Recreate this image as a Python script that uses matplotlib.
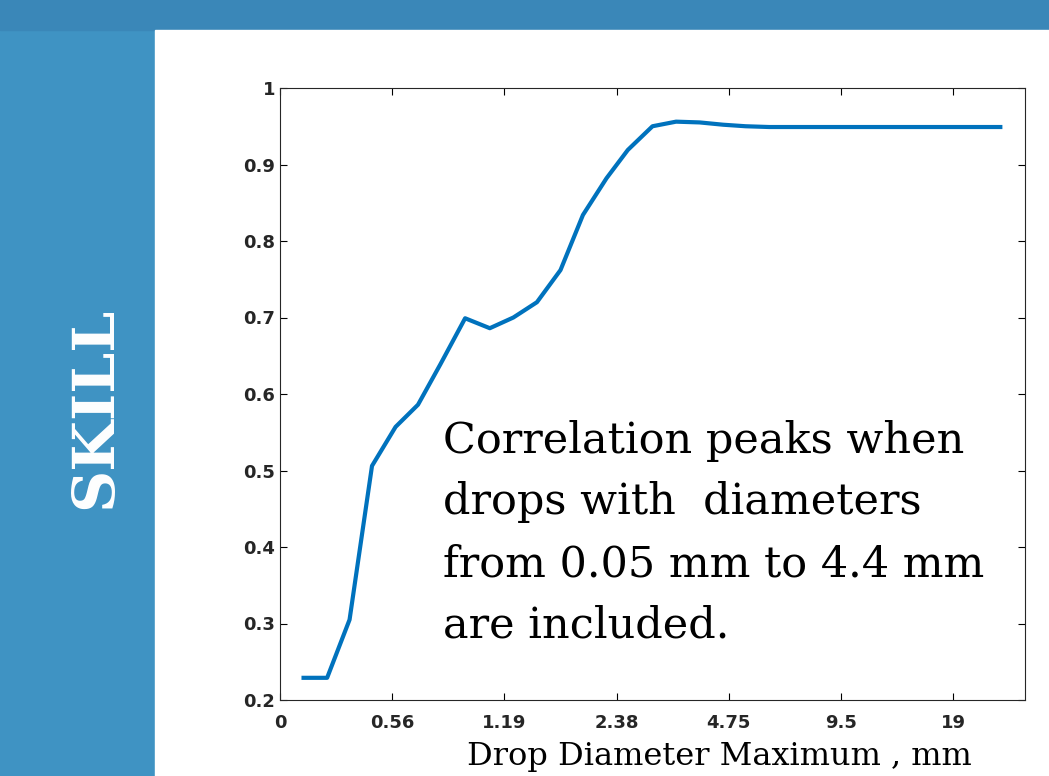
import matplotlib.pyplot as plt
from matplotlib.patches import Rectangle

# positions along the (evenly spaced) tick axis, and skill values
x_pos = [0.21, 0.42, 0.62, 0.82, 1.03, 1.23, 1.43, 1.65, 1.87, 2.08, 2.29, 2.50,
         2.70, 2.91, 3.10, 3.32, 3.53, 3.74, 3.95, 4.15, 4.36, 4.57, 4.78, 4.98,
         5.19, 5.40, 5.60, 5.81, 6.01, 6.22, 6.42]
skill = [0.229, 0.229, 0.305, 0.506, 0.557, 0.586, 0.639, 0.699, 0.686, 0.700,
         0.720, 0.762, 0.834, 0.882, 0.919, 0.950, 0.956, 0.955, 0.952, 0.950,
         0.949, 0.949, 0.949, 0.949, 0.949, 0.949, 0.949, 0.949, 0.949, 0.949, 0.949]
tick_labels = ["0", "0.56", "1.19", "2.38", "4.75", "9.5", "19"]

fig = plt.figure(figsize=(10.49, 7.76), dpi=100)
fig.patch.set_facecolor("#3f93c3")

# background panel
bg = fig.add_axes([0, 0, 1, 1], zorder=-1)
bg.set_xlim(0, 1049)
bg.set_ylim(776, 0)
bg.axis("off")
bg.add_patch(Rectangle((0, 0), 1049, 30, color="#3a87b8"))
bg.add_patch(Rectangle((155, 30), 894, 746, color="white"))

ax = fig.add_axes([280 / 1049, 1 - 700 / 776, 745 / 1049, 612 / 776])
ax.plot(x_pos, skill, color="#0072bd", lw=3)
ax.set_xlim(0, 6.64)
ax.set_ylim(0.2, 1.0)
ax.set_xticks(range(len(tick_labels)))
ax.set_xticklabels(tick_labels)
ax.set_yticks([0.2, 0.3, 0.4, 0.5, 0.6, 0.7, 0.8, 0.9, 1.0])
ax.set_yticklabels(["0.2", "0.3", "0.4", "0.5", "0.6", "0.7", "0.8", "0.9", "1"])
ax.tick_params(direction="in", top=True, right=True, labelsize=13, length=5)
ax.tick_params(axis="x", pad=10)
for lab in ax.get_xticklabels() + ax.get_yticklabels():
    lab.set_fontweight("bold")
    lab.set_color("#262626")
for s in ax.spines.values():
    s.set_color("#262626")

ax.text(1.45, 0.418, "Correlation peaks when\ndrops with  diameters\nfrom 0.05 mm to 4.4 mm\nare included.",
        family="DejaVu Serif", fontsize=31, va="center", ha="left", linespacing=1.6)
fig.text(719 / 1049, 1 - 757 / 776, "Drop Diameter Maximum , mm", family="DejaVu Serif",
         fontsize=23, ha="center", va="center")
fig.text(95 / 1049, 1 - 408 / 776, "SKILL", family="DejaVu Serif", fontsize=42,
         fontweight="bold", color="white", rotation=90, ha="center", va="center")

fig.savefig("out.png", dpi=100, facecolor=fig.get_facecolor())
